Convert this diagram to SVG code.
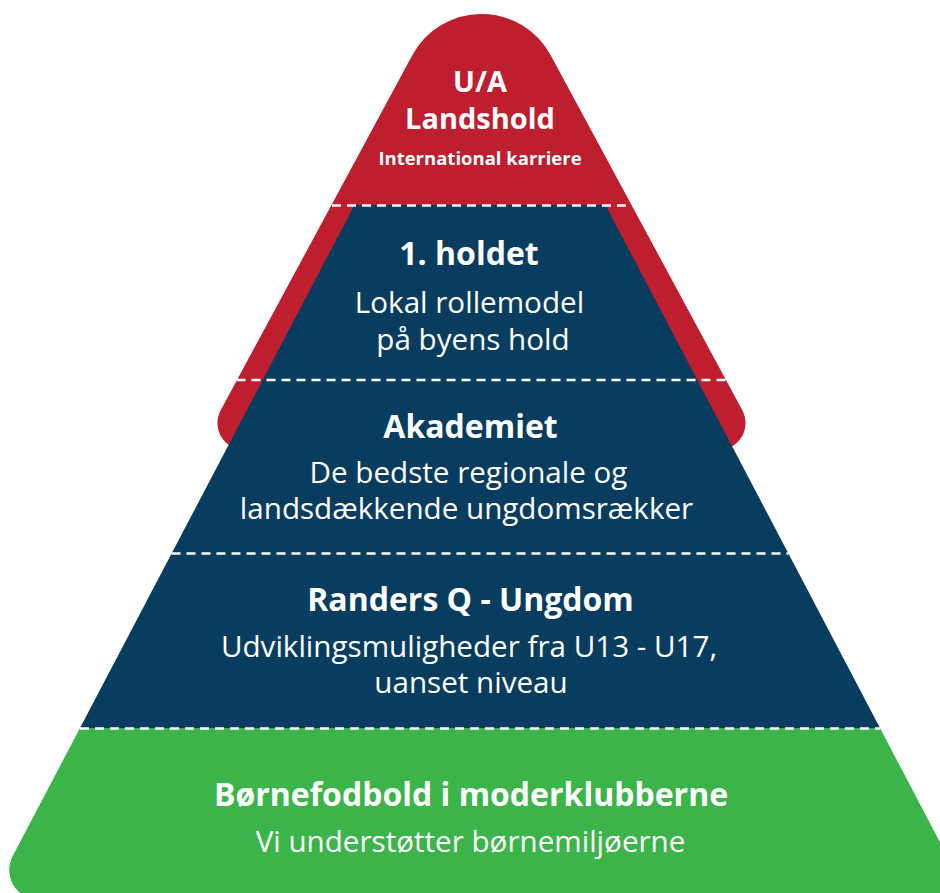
<svg xmlns="http://www.w3.org/2000/svg" width="940" height="893" viewBox="0 0 940 893">
  <style>
    .title { font-family: "Open Sans", "Liberation Sans", sans-serif; font-weight: 700; fill: #ffffff; text-anchor: middle; }
    .sub { font-family: "Open Sans", "Liberation Sans", sans-serif; font-weight: 400; fill: #ffffff; text-anchor: middle; }
    .divider { stroke: #ffffff; stroke-width: 2.5; stroke-dasharray: 9 6; fill: none; }
  </style>
  <rect width="940" height="893" fill="#ffffff"/>
  <g id="tier-international">
    <path d="M 412.3 55.3 A 78.6 78.6 0 0 1 550.7 55.3 L 742.3 410.2 A 27 27 0 0 1 718.5 450 L 244.5 450 A 27 27 0 0 1 220.7 410.2 Z" fill="#BE1E2D"/>
    <text class="title" x="480" y="92" font-size="29">U/A</text>
    <text class="title" x="480" y="129" font-size="29">Landshold</text>
    <text class="title" x="480" y="165" font-size="18.5">International karriere</text>
  </g>
  <g id="tier-pyramid-blue">
    <polygon points="354.5,205 605.5,205 880,728 80,728" fill="#083D5F"/>
  </g>
  <g id="tier-first-team">
    <text class="title" x="469" y="265" font-size="32">1. holdet</text>
    <text class="sub" x="469.5" y="313" font-size="29.6">Lokal rollemodel</text>
    <text class="sub" x="473" y="350" font-size="29.6">på byens hold</text>
  </g>
  <g id="tier-academy">
    <text class="title" x="470.5" y="438" font-size="32">Akademiet</text>
    <text class="sub" x="468.5" y="483" font-size="29.6">De bedste regionale og</text>
    <text class="sub" x="466.5" y="519" font-size="29.6">landsdækkende ungdomsrækker</text>
  </g>
  <g id="tier-youth">
    <text class="title" x="470.5" y="611" font-size="32">Randers Q - Ungdom</text>
    <text class="sub" x="469" y="657" font-size="29.6">Udviklingsmuligheder fra U13 - U17,</text>
    <text class="sub" x="471" y="693" font-size="29.6">uanset niveau</text>
  </g>
  <g id="tier-grassroots">
    <path d="M 80 728 L 880 728 L 947.3 856.1 A 30 30 0 0 1 920.7 900 L 39.3 900 A 30 30 0 0 1 12.7 856.1 Z" fill="#3BB54A"/>
    <text class="title" x="471" y="806" font-size="32">Børnefodbold i moderklubberne</text>
    <text class="sub" x="470.5" y="852" font-size="29.6">Vi understøtter børnemiljøerne</text>
  </g>
  <g id="connectors">
    <line class="divider" x1="332" y1="205.5" x2="631" y2="205.5"/>
    <line class="divider" x1="236.5" y1="380" x2="725.5" y2="380"/>
    <line class="divider" x1="171.5" y1="553.5" x2="788.5" y2="553.5"/>
    <line class="divider" x1="80" y1="728.5" x2="880" y2="728.5"/>
  </g>
</svg>
